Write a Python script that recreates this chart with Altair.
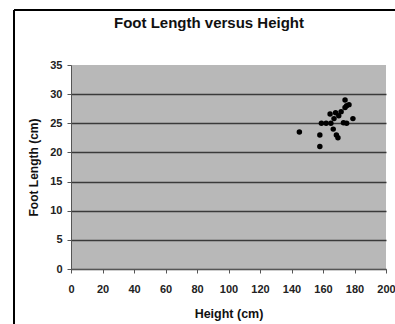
import altair as alt
import pandas as pd

heights = [145, 158, 158, 159, 162, 165, 166.5, 168.5, 169.5, 164.5, 167, 170, 171.5,
           174, 175, 176.5, 174, 179, 173, 175, 168]
foot_lengths = [23.5, 21, 23, 25, 25, 25, 24, 23, 22.5, 26.6, 25.8, 26.3, 27,
                27.7, 28, 28.2, 29, 25.8, 25.1, 25, 26.8]

x_ticks = list(range(0, 201, 20))
y_ticks = list(range(0, 36, 5))
title_text = "Foot Length versus Height"

df = pd.DataFrame({"Height": heights, "Foot": foot_lengths})

FONT = "Liberation Sans"

points = alt.Chart(df).mark_circle(size=30, color="black", opacity=1).encode(
    x=alt.X("Height:Q", scale=alt.Scale(domain=[0, 200], nice=False),
            axis=alt.Axis(values=x_ticks, title="Height (cm)", grid=False,
                          tickSize=4, labelPadding=10, titlePadding=13,
                          labelFontSize=11, labelFontWeight="bold", titleFontSize=12.5,
                          titleFontWeight="bold",
                          labelColor="#222", titleColor="#111", domainColor="#555",
                          tickColor="#555", labelFlush=False, labelOverlap=False)),
    y=alt.Y("Foot:Q", scale=alt.Scale(domain=[0, 35], nice=False),
            axis=alt.Axis(values=y_ticks, title="Foot Length (cm)", grid=True,
                          gridColor={"condition": {"test": "datum.value == 35", "value": "transparent"},
                                     "value": "#3a3a3a"},
                          gridWidth=1.6, tickSize=4, labelPadding=5,
                          titlePadding=9, labelFontSize=11, labelFontWeight="bold",
                          titleFontSize=12, titleFontWeight="bold",
                          labelColor="#222", titleColor="#111",
                          domainColor="#555", tickColor="#555")),
)

border = alt.Chart(df).mark_rule(color="black", strokeWidth=1.5).encode(
    x=alt.value(-57), y=alt.value(-55), y2=alt.value(270)
)
border_top = alt.Chart(df).mark_rule(color="black", strokeWidth=1.5).encode(
    x=alt.value(-57), x2=alt.value(340), y=alt.value(-55)
)
title = alt.Chart(pd.DataFrame({"t": [title_text]})).mark_text(
    font=FONT, fontSize=15, fontWeight="bold", color="#111", align="center", baseline="alphabetic"
).encode(text="t:N", x=alt.value(138), y=alt.value(-37))

chart = alt.layer(border, border_top, points, title).properties(
    width=315, height=204,
    autosize=alt.AutoSizeParams(type="none"),
    padding={"left": 71, "top": 65, "right": 9, "bottom": 55},
).configure(font=FONT).configure_view(
    fill="#b8b8b8", stroke=None
).configure_axis(labelFont=FONT, titleFont=FONT)

chart.save("out.html", embed_options={"renderer": "svg", "actions": False})
